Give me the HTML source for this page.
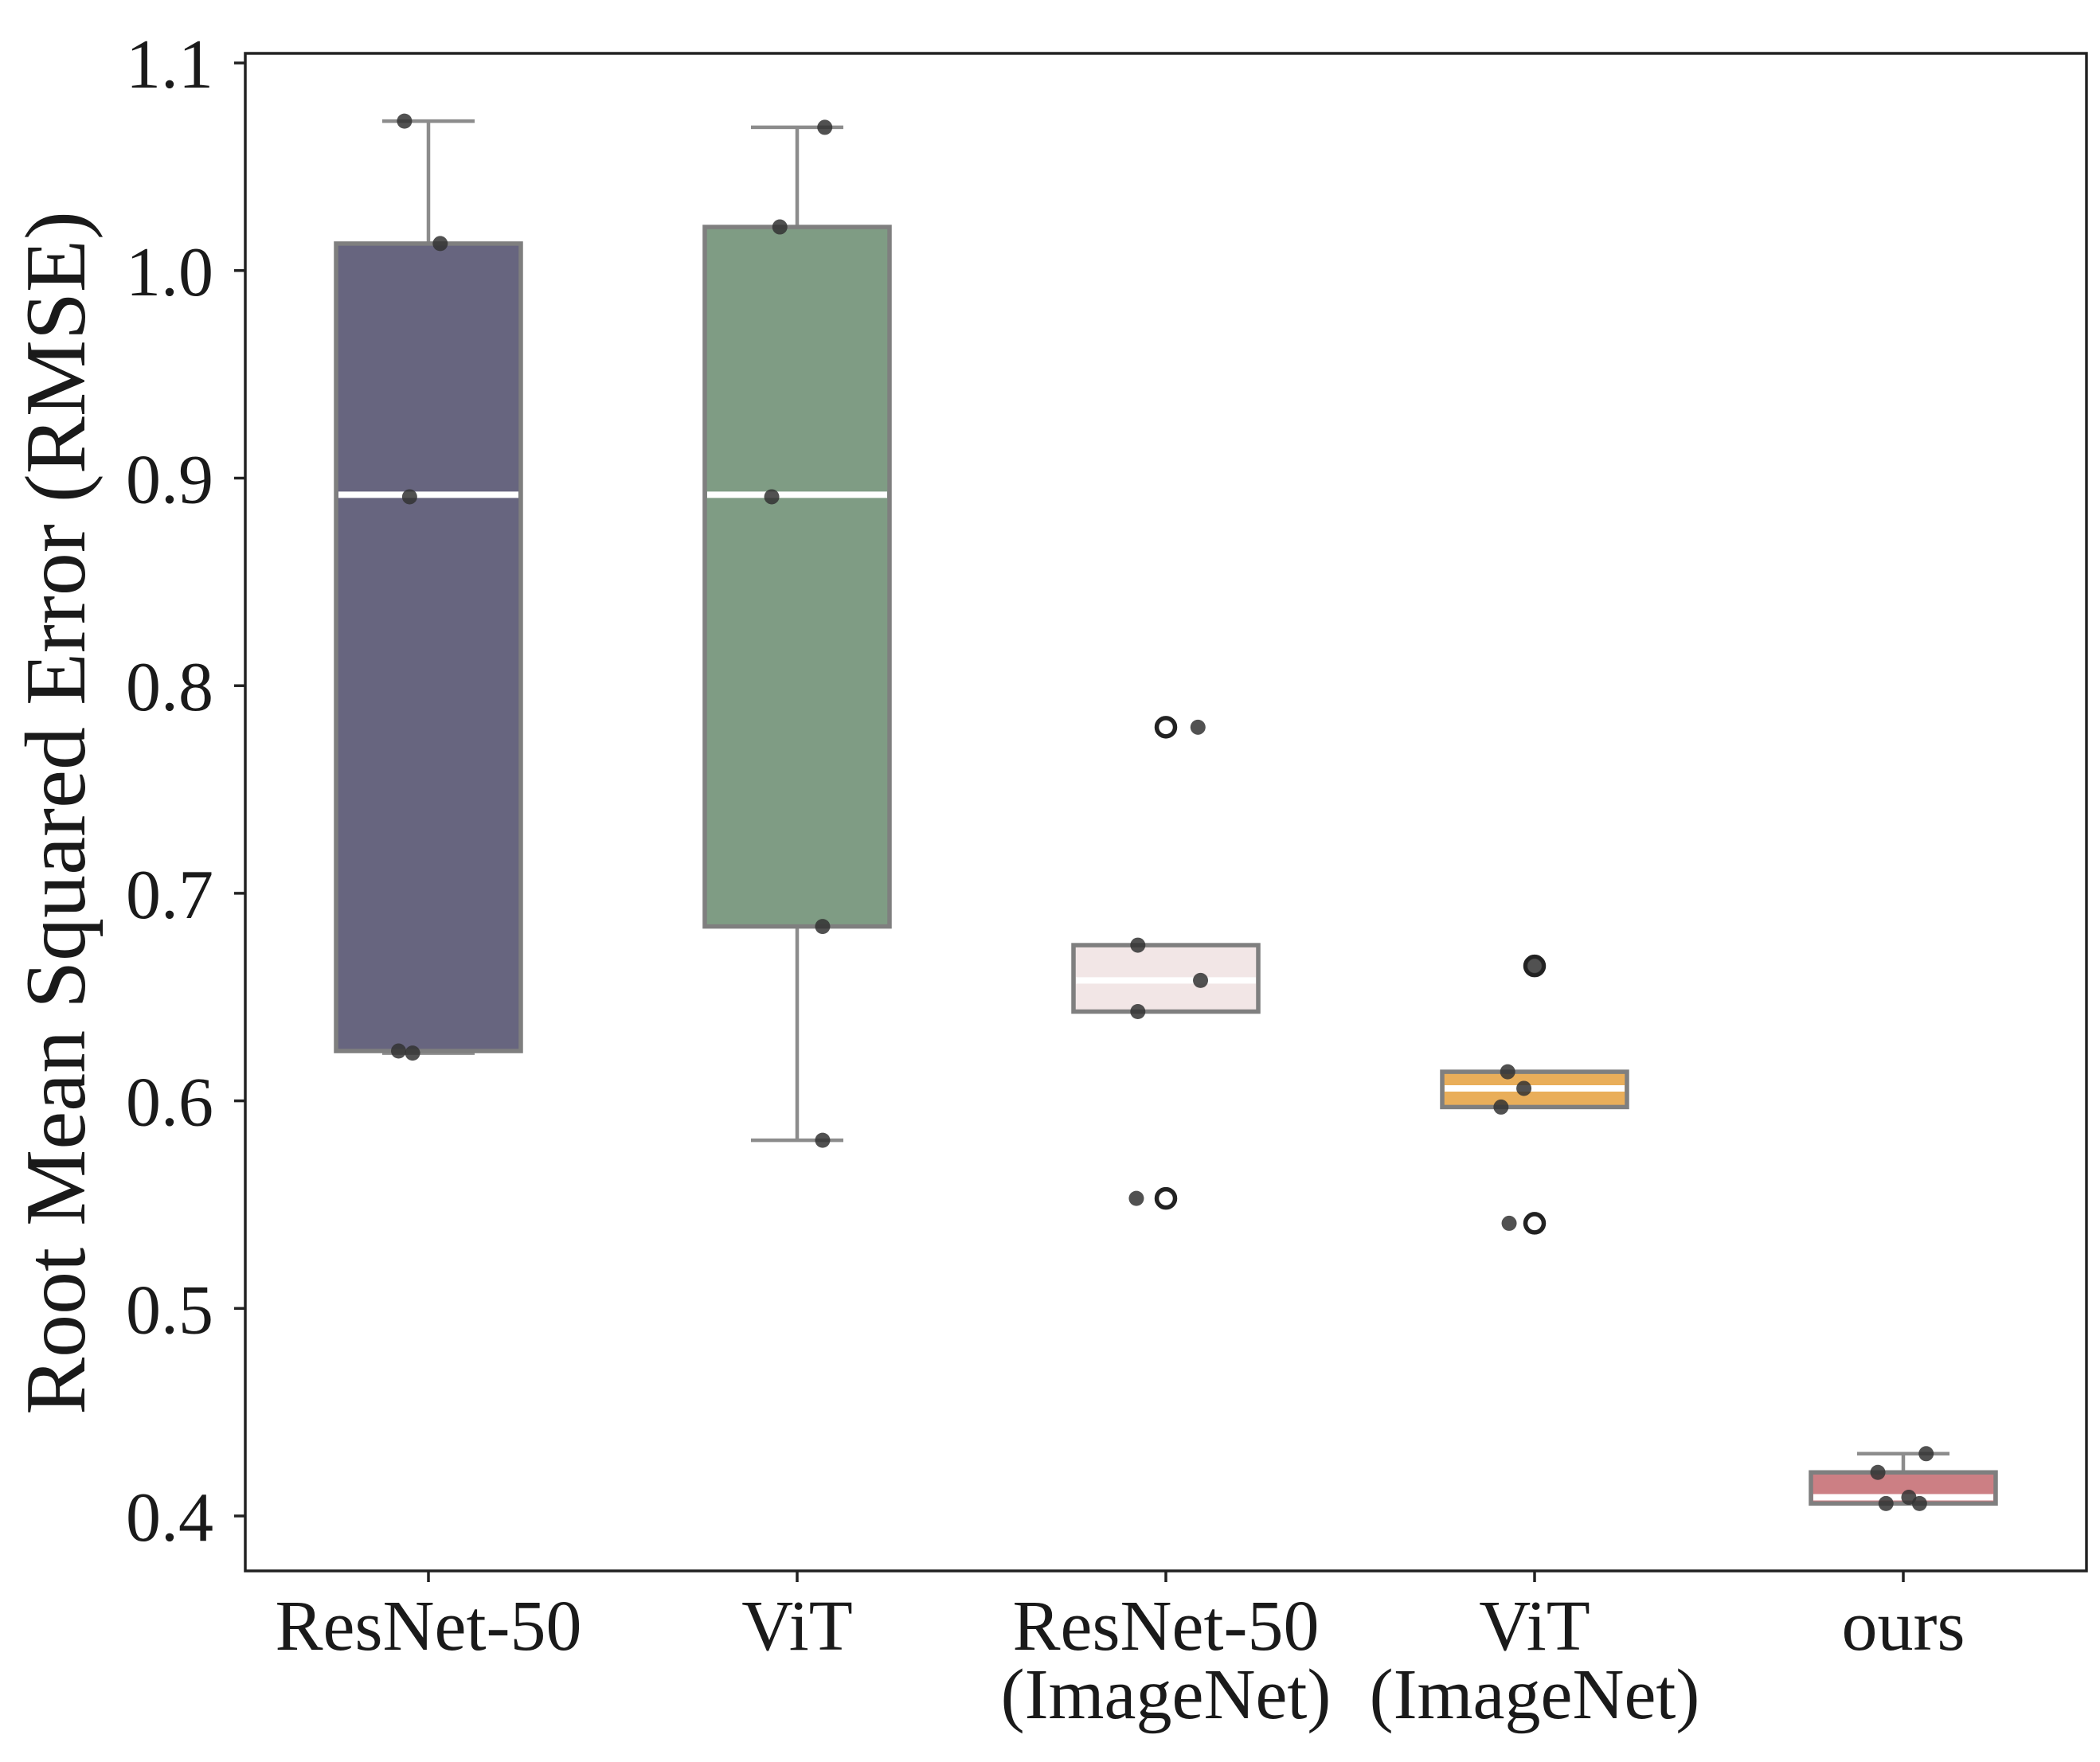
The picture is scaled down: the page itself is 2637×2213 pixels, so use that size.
<!DOCTYPE html>
<html><head><meta charset="utf-8"><style>
html,body{margin:0;padding:0;background:#fff;}
svg text{font-family:"Liberation Serif",serif;fill:#1a1a1a;}
</style></head><body>
<svg id="chart" width="2637" height="2208" viewBox="0 0 2637 2208" xmlns="http://www.w3.org/2000/svg">
<g id="plot"></g>
<text x="0" y="0" font-size="108" text-anchor="middle" transform="translate(106,1021) rotate(-90)">Root Mean Squared Error (RMSE)</text>
</svg>
<script>
const categories = [["ResNet-50"],["ViT"],["ResNet-50","(ImageNet)"],["ViT","(ImageNet)"],["ours"]];
const colors = ["#67657f","#7f9c84","#f2e6e6","#e9ae5a","#cc7f84"];
const q1 = [0.624,0.684,0.643,0.597,0.406];
const median = [0.892,0.892,0.658,0.606,0.409];
const q3 = [1.013,1.021,0.675,0.614,0.421];
const whiskerLow = [0.623,0.581,0.643,0.597,0.406];
const whiskerHigh = [1.072,1.069,0.675,0.614,0.430];
const fliers = [[],[],[0.780,0.553],[0.665,0.541],[]];
const points = [[1.072,1.013,0.891,0.624,0.623],[1.069,1.021,0.891,0.684,0.581],[0.780,0.675,0.658,0.643,0.553],[0.665,0.614,0.606,0.597,0.541],[0.430,0.421,0.409,0.406,0.406]];
const jitter = [[-0.065,0.032,-0.051,-0.081,-0.043],[0.075,-0.047,-0.069,0.069,0.069],[0.087,-0.076,0.094,-0.076,-0.080],[0.0,-0.073,-0.029,-0.091,-0.069],[0.062,-0.069,0.015,-0.047,0.044]];
const yTicks = [0.4,0.5,0.6,0.7,0.8,0.9,1.0,1.1];
const yTickLabels = ["0.4","0.5","0.6","0.7","0.8","0.9","1.0","1.1"];

const L=308,R=2620,T=67,B=1973;
const y = v => 1904 - (v-0.4)*2607;
const x = i => 538 + i*463;
const step = 463, bw = 232;
const NS="http://www.w3.org/2000/svg";
const g=document.getElementById('plot');
function mk(tag,attrs){const e=document.createElementNS(NS,tag);for(const k in attrs)e.setAttribute(k,attrs[k]);g.appendChild(e);return e;}

categories.forEach((c,i)=>{
  const cx=x(i);
  const wl=mk('line',{x1:cx,x2:cx,y1:y(q1[i]),y2:y(whiskerLow[i]),stroke:'#8c8c8c','stroke-width':4.5});
  
  
  const wh=mk('line',{x1:cx,x2:cx,y1:y(q3[i]),y2:y(whiskerHigh[i]),stroke:'#8c8c8c','stroke-width':4.5});
  
  
  const cl=mk('line',{x1:cx-58,x2:cx+58,y1:y(whiskerLow[i]),y2:y(whiskerLow[i]),stroke:'#8c8c8c','stroke-width':4.5});
  
  
  const ch=mk('line',{x1:cx-58,x2:cx+58,y1:y(whiskerHigh[i]),y2:y(whiskerHigh[i]),stroke:'#8c8c8c','stroke-width':4.5});
  
  
  const box=mk('rect',{x:cx-bw/2,y:y(q3[i]),width:bw,height:y(q1[i])-y(q3[i]),fill:colors[i],stroke:'#7f7f7f','stroke-width':5.5});
  
  
  const md=mk('line',{x1:cx-bw/2+3,x2:cx+bw/2-3,y1:y(median[i]),y2:y(median[i]),stroke:'#fff','stroke-width':8});
  
  
  fliers[i].forEach(v=>{
    const f=mk('circle',{cx:cx,cy:y(v),r:11.5,fill:'none',stroke:'#222','stroke-width':5.5});
    
    
  });
  points[i].forEach((v,j)=>{
    const p=mk('circle',{cx:cx+jitter[i][j]*step,cy:y(v),r:9.5,fill:'#333','fill-opacity':0.85});
    
    
  });
  const tk=mk('line',{x1:cx,x2:cx,y1:B,y2:B+14,stroke:'#222','stroke-width':3.5});
  
  
  c.forEach((s,k)=>{
    const t=mk('text',{x:cx,y:2072+k*86,'font-size':90,'text-anchor':'middle'});
    t.textContent=s;
    
    
  });
});
yTicks.forEach((v,i)=>{
  const tk=mk('line',{x1:L-14,x2:L,y1:y(v),y2:y(v),stroke:'#222','stroke-width':3.5});
  
  
  const t=mk('text',{x:L-40,y:y(v)+31,'font-size':88,'text-anchor':'end'});
  t.textContent=yTickLabels[i];
  
  
});
const frame=mk('rect',{x:L,y:T,width:R-L,height:B-T,fill:'none',stroke:'#222','stroke-width':3.5});


</script>
</body></html>
